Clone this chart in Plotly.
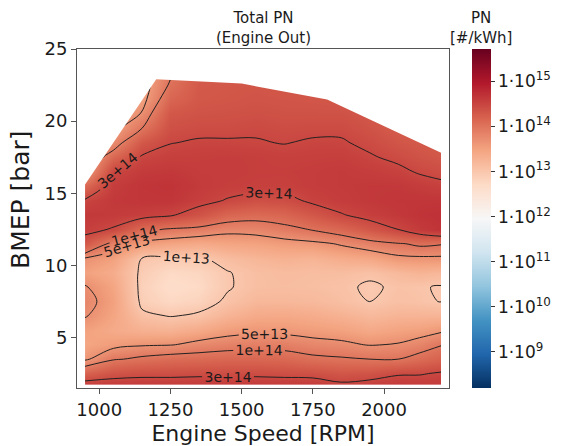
import numpy as np
import plotly.graph_objects as go

# Engine speed grid [RPM] and BMEP grid [bar]
speed_rpm = [950, 1050, 1150, 1250, 1350, 1450, 1550, 1650, 1750, 1850, 1950, 2050, 2125, 2200]
bmep_bar = [1.7, 2.5, 3.5, 4.5, 5.5, 6.5, 7.5, 8.5, 9.5, 10.5, 11.5, 12.5, 13.5,
            14.5, 15.5, 16.5, 17.5, 18.5, 19.5, 20.5, 21.5, 22.5, 23.5]

# log10(PN [#/kWh]), one list per engine speed (bottom -> top)
pn_950 = [14.58, 14.20, 13.62, 13.45, 13.50, 13.72, 13.80, 13.72, 13.50, 13.68, 14.30, 14.56, 14.62, 14.50, 14.10, 13.60, 13.45, 13.40, 13.35, 13.30, 13.30, 13.30, 13.30]
pn_1050 = [14.60, 14.35, 13.97, 13.55, 13.38, 13.45, 13.50, 13.45, 13.35, 13.50, 13.85, 14.45, 14.60, 14.62, 14.58, 14.48, 14.15, 13.75, 13.50, 13.40, 13.35, 13.35, 13.35]
pn_1150 = [14.60, 14.40, 14.05, 13.65, 13.30, 13.08, 12.88, 12.84, 12.90, 13.00, 13.55, 14.10, 14.55, 14.65, 14.66, 14.60, 14.50, 14.30, 14.00, 13.72, 13.50, 13.40, 13.35]
pn_1250 = [14.60, 14.40, 14.10, 13.68, 13.28, 12.98, 12.75, 12.65, 12.72, 12.93, 13.45, 13.95, 14.50, 14.65, 14.68, 14.62, 14.55, 14.47, 14.38, 14.30, 14.15, 14.03, 13.95]
pn_1350 = [14.60, 14.42, 14.12, 13.78, 13.40, 13.05, 12.82, 12.72, 12.78, 12.95, 13.38, 13.88, 14.35, 14.55, 14.60, 14.58, 14.56, 14.50, 14.42, 14.35, 14.30, 14.28, 14.25]
pn_1450 = [14.60, 14.42, 14.15, 13.85, 13.55, 13.25, 13.05, 12.97, 12.98, 13.12, 13.45, 13.78, 14.15, 14.46, 14.56, 14.58, 14.57, 14.50, 14.42, 14.36, 14.32, 14.30, 14.28]
pn_1550 = [14.60, 14.42, 14.15, 13.88, 13.62, 13.38, 13.20, 13.10, 13.10, 13.22, 13.48, 13.80, 14.10, 14.38, 14.55, 14.56, 14.56, 14.49, 14.45, 14.38, 14.34, 14.32, 14.30]
pn_1650 = [14.60, 14.40, 14.13, 13.88, 13.60, 13.40, 13.20, 13.12, 13.14, 13.28, 13.55, 13.90, 14.15, 14.40, 14.54, 14.56, 14.54, 14.47, 14.42, 14.36, 14.33, 14.30, 14.28]
pn_1750 = [14.60, 14.38, 14.06, 13.80, 13.55, 13.35, 13.18, 13.10, 13.12, 13.25, 13.60, 14.02, 14.30, 14.52, 14.58, 14.58, 14.55, 14.50, 14.43, 14.36, 14.32, 14.28, 14.26]
pn_1850 = [14.52, 14.32, 14.03, 13.76, 13.50, 13.28, 13.10, 13.06, 13.12, 13.35, 13.73, 14.12, 14.46, 14.58, 14.60, 14.60, 14.56, 14.50, 14.43, 14.36, 14.30, 14.25, 14.22]
pn_1950 = [14.56, 14.35, 14.00, 13.68, 13.40, 13.18, 12.99, 12.95, 13.06, 13.42, 13.85, 14.30, 14.56, 14.62, 14.62, 14.57, 14.50, 14.42, 14.35, 14.30, 14.25, 14.22, 14.20]
pn_2050 = [14.60, 14.45, 14.00, 13.72, 13.48, 13.25, 13.08, 13.05, 13.18, 13.60, 13.97, 14.48, 14.62, 14.65, 14.62, 14.53, 14.42, 14.32, 14.25, 14.22, 14.20, 14.18, 14.15]
pn_2125 = [14.58, 14.46, 14.10, 13.82, 13.52, 13.25, 13.05, 13.03, 13.25, 13.62, 14.05, 14.60, 14.68, 14.65, 14.58, 14.45, 14.35, 14.28, 14.22, 14.20, 14.18, 14.15, 14.12]
pn_2200 = [14.58, 14.50, 14.20, 13.98, 13.62, 13.25, 12.99, 12.97, 13.20, 13.62, 14.02, 14.68, 14.70, 14.65, 14.53, 14.40, 14.30, 14.25, 14.20, 14.18, 14.15, 14.12, 14.10]

# Full-load curve (upper limit of the map)
fullload_speed = [950, 1200, 1500, 1800, 2200]
fullload_bmep = [15.6, 22.9, 22.6, 21.5, 17.8]

# Contour line levels [#/kWh]
line_levels = [1e13, 5e13, 1e14, 3e14]

# Colorbar ticks (log10)
cbar_exponents = [9, 10, 11, 12, 13, 14, 15]
x_ticks = [1000, 1250, 1500, 1750, 2000]
y_ticks = [5, 10, 15, 20, 25]

x_range = [921.8, 2228]
y_range = [1.5, 25]
c_range = [8.2, 15.72]

columns = [pn_950, pn_1050, pn_1150, pn_1250, pn_1350, pn_1450, pn_1550, pn_1650,
           pn_1750, pn_1850, pn_1950, pn_2050, pn_2125, pn_2200]
z_log = np.array(columns).T
z_lin = 10.0 ** z_log

rdbu = ["#67001f", "#b2182b", "#d6604d", "#f4a582", "#fddbc7", "#f7f7f7",
        "#d1e5f0", "#92c5de", "#4393c3", "#2166ac", "#053061"]
rdbu_r = rdbu[::-1]
colorscale = [[i / (len(rdbu_r) - 1), c] for i, c in enumerate(rdbu_r)]

FONT = "DejaVu Sans"
TXT = "#1a1a1a"

fig = go.Figure()

fig.add_trace(go.Contour(
    x=speed_rpm, y=bmep_bar, z=z_log,
    colorscale=colorscale, zmin=c_range[0], zmax=c_range[1],
    contours=dict(coloring="heatmap", showlines=False),
    line=dict(width=0),
    ncontours=60,
    colorbar=dict(
        x=(472 - 77) / 372, xanchor="left", xpad=0,
        y=0.5, yanchor="middle", len=1, lenmode="fraction", ypad=0,
        thickness=19, outlinewidth=0,
        tickmode="array", tickvals=cbar_exponents,
        ticktext=["1·10<sup>%d</sup>" % e for e in cbar_exponents],
        ticks="outside", ticklen=4, tickcolor="#333",
        tickfont=dict(family=FONT, size=17, color=TXT),
    ),
    hoverinfo="skip",
))

for lev in line_levels:
    fig.add_trace(go.Contour(
        x=speed_rpm, y=bmep_bar, z=z_lin,
        autocontour=False,
        contours=dict(start=lev, end=lev, size=lev, coloring="lines",
                      showlabels=True, labelformat=".0e",
                      labelfont=dict(family=FONT, size=14, color=TXT)),
        colorscale=[[0, "#222"], [1, "#222"]],
        line=dict(width=1, color="#222"),
        showscale=False, hoverinfo="skip",
    ))

# White mask above the full-load curve
mask_x = list(fullload_speed) + [x_range[1], x_range[1], x_range[0], x_range[0]]
mask_y = list(fullload_bmep) + [fullload_bmep[-1], y_range[1] + 1, y_range[1] + 1, fullload_bmep[0]]
fig.add_trace(go.Scatter(
    x=mask_x, y=mask_y, mode="lines", fill="toself",
    fillcolor="white", line=dict(width=0, color="white"),
    showlegend=False, hoverinfo="skip",
))

fig.update_layout(
    width=563, height=446,
    margin=dict(l=77, r=114, t=49, b=58, autoexpand=False),
    paper_bgcolor="white", plot_bgcolor="white",
    font=dict(family=FONT, color=TXT),
    showlegend=False,
    xaxis=dict(
        range=x_range, tickmode="array", tickvals=x_ticks, automargin=False,
        showgrid=False, zeroline=False,
        showline=True, mirror=True, linecolor="#555", linewidth=1,
        ticks="outside", ticklen=5, tickcolor="#555",
        tickfont=dict(family=FONT, size=18, color=TXT),
        title=dict(text="Engine Speed [RPM]", font=dict(family=FONT, size=22, color=TXT), standoff=10),
    ),
    yaxis=dict(
        range=y_range, tickmode="array", tickvals=y_ticks, automargin=False,
        showgrid=False, zeroline=False,
        showline=True, mirror=True, linecolor="#555", linewidth=1,
        ticks="outside", ticklen=5, tickcolor="#555",
        tickfont=dict(family=FONT, size=18, color=TXT),
    ),
    annotations=[
        dict(text="Total PN<br>(Engine Out)", x=0.5, y=1, xref="paper", yref="paper",
             xanchor="center", yanchor="bottom", yshift=0, showarrow=False,
             font=dict(family=FONT, size=15, color=TXT)),
        dict(text="PN<br>[#/kWh]", x=(481 - 77) / 372, y=1, xref="paper", yref="paper",
             xanchor="center", yanchor="bottom", yshift=0, showarrow=False,
             font=dict(family=FONT, size=15, color=TXT)),
        dict(text="BMEP [bar]", textangle=-90, x=(21 - 77) / 372, y=(388 - 200) / 339,
             xref="paper", yref="paper", xanchor="center", yanchor="middle",
             showarrow=False, font=dict(family=FONT, size=25, color=TXT)),
    ],
)

fig.write_html("out.html")
